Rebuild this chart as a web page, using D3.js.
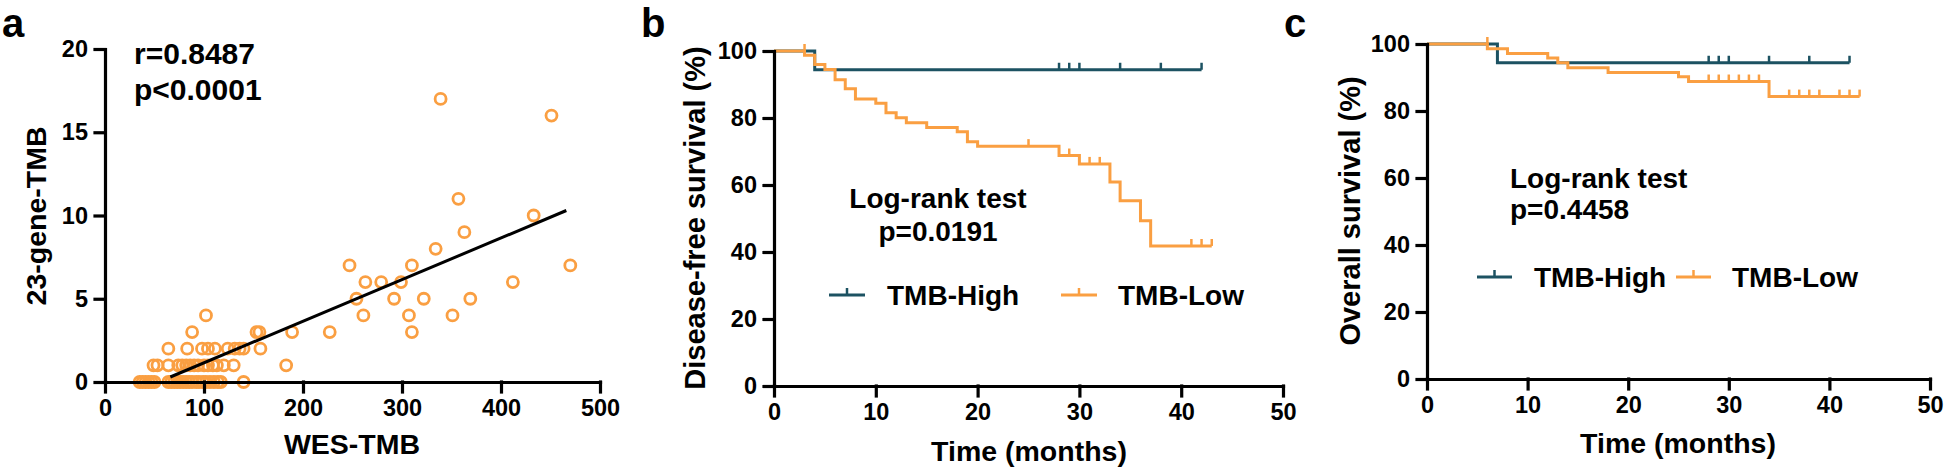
<!DOCTYPE html>
<html>
<head>
<meta charset="utf-8">
<script src="https://cdn.jsdelivr.net/npm/d3@7"></script>
<style>
    body { margin: 0; background: #fff; }
    svg text { font-family: "Liberation Sans", Arial, sans-serif; font-weight: bold; fill: #000; }
    .axis .domain, .axis line { stroke: #000; stroke-width: 3.2; stroke-linecap: square; }
    .axis text { font-size: 23.5px; }
</style>
</head>
<body>
<svg id="fig" width="1946" height="471"></svg>
<script>
// panel a: WES-TMB vs 23-gene-TMB
var wesTmb  = [35, 38, 41, 44, 47, 50, 64, 67, 70, 73, 76, 79, 82, 85, 88, 92, 95, 99, 102, 106, 110, 114, 117, 140,
               49, 53, 64, 74, 78, 82, 86, 90, 94, 100, 104, 109, 113, 120, 130, 183,
               64, 83, 98, 104, 111, 124, 131, 136, 140, 157,
               88, 153, 156, 189, 227, 310,
               102, 261, 307, 351,
               254, 292, 322, 369,
               263, 279, 299, 412,
               247, 310, 470,
               334, 363, 433, 357, 451, 339];
var geneTmb = [0, 0, 0, 0, 0, 0, 0, 0, 0, 0, 0, 0, 0, 0, 0, 0, 0, 0, 0, 0, 0, 0, 0, 0,
               1, 1, 1, 1, 1, 1, 1, 1, 1, 1, 1, 1, 1, 1, 1, 1,
               2, 2, 2, 2, 2, 2, 2, 2, 2, 2,
               3, 3, 3, 3, 3, 3,
               4, 4, 4, 4,
               5, 5, 5, 5,
               6, 6, 6, 6,
               7, 7, 7,
               8, 9, 10, 11, 16, 17];
var fitSlope = 0.025, fitIntercept = -1.35, fitRange = [66, 466];
var wesTicks = [0, 100, 200, 300, 400, 500];
var geneTicks = [0, 5, 10, 15, 20];

// panel b: disease-free survival
var dfsHighTimes = [0, 4, 42];
var dfsHighSurv = [100, 94.4, 94.4];
var dfsHighCens = [28, 29, 30, 34, 38, 42];
var dfsLowTimes = [0, 3, 4, 5, 6, 7, 8, 10, 11, 12, 13, 15, 18, 19, 20, 28, 30, 33, 34, 36, 37, 43];
var dfsLowSurv = [100, 98.7, 96.0, 94.5, 91.4, 88.7, 85.7, 84.4, 81.6, 80.1, 78.6, 77.2, 75.9, 72.9, 71.6, 68.8, 66.3, 60.9, 55.3, 49.3, 41.8, 41.8];
var dfsLowCens = [3, 25, 29, 31, 32, 41, 42, 43];

// panel c: overall survival
var osHighTimes = [0, 7, 42];
var osHighSurv = [100, 94.4, 94.4];
var osHighCens = [28, 29, 30, 34, 38, 42];
var osLowTimes = [0, 6, 8, 12, 13, 14, 18, 25, 26, 34, 43];
var osLowSurv = [100, 98.6, 97.2, 95.8, 94.4, 92.9, 91.5, 90.2, 88.8, 84.3, 84.3];
var osLowCens = [6, 28, 29, 30, 31, 32, 33, 36, 37, 38, 39, 41, 42, 43];

var timeTicks = [0, 10, 20, 30, 40, 50];
var survTicks = [0, 20, 40, 60, 80, 100];

var orange = '#fa9f42';
var blue = '#1c5262';

var svg = d3.select('#fig');
svg.append('rect').attr('width', 1946).attr('height', 471).attr('fill', '#fff');

function drawAxes(x, y, xTicks, yTicks) {
    svg.append('g').attr('class', 'axis')
        .attr('transform', 'translate(0,' + y.range()[0] + ')')
        .call(d3.axisBottom(x).tickValues(xTicks).tickSize(10).tickSizeOuter(0).tickPadding(7));
    svg.append('g').attr('class', 'axis')
        .attr('transform', 'translate(' + x.range()[0] + ',0)')
        .call(d3.axisLeft(y).tickValues(yTicks).tickSize(10).tickSizeOuter(0).tickPadding(7));
}

function label(txt, x, y, size, anchor, rotate) {
    var t = svg.append('text')
        .attr('text-anchor', anchor || 'start')
        .style('font-size', size + 'px')
        .text(txt);
    if (rotate) {
        t.attr('transform', 'translate(' + x + ',' + y + ') rotate(-90)');
    } else {
        t.attr('x', x).attr('y', y);
    }
    return t;
}

// ---- panel a ----
var xa = d3.scaleLinear().domain([0, 500]).range([105, 600]);
var ya = d3.scaleLinear().domain([0, 20]).range([382, 49]);

var points = wesTmb.map(function(w, i) { return {x: w, y: geneTmb[i]}; });

svg.append('g').selectAll('circle')
    .data(points)
    .enter()
    .append('circle')
    .attr('cx', function(d) { return xa(d.x); })
    .attr('cy', function(d) { return ya(d.y); })
    .attr('r', 5.5)
    .attr('fill', 'none')
    .attr('stroke', orange)
    .attr('stroke-width', 2.8);

svg.append('line')
    .attr('x1', xa(fitRange[0])).attr('y1', ya(fitIntercept + fitSlope * fitRange[0]))
    .attr('x2', xa(fitRange[1])).attr('y2', ya(fitIntercept + fitSlope * fitRange[1]))
    .attr('stroke', '#000').attr('stroke-width', 3);

drawAxes(xa, ya, wesTicks, geneTicks);

label('a', 2, 37, 40);
label('r=0.8487', 134, 64, 30);
label('p<0.0001', 134, 100, 30);
label('WES-TMB', 352, 454, 28.5, 'middle');
label('23-gene-TMB', 46, 216, 28.5, 'middle', true);

// ---- KM helpers ----
function survAt(times, surv, t) {
    var s = surv[0];
    for (var i = 0; i < times.length; i++) {
        if (times[i] < t) s = surv[i];
    }
    return s;
}

function drawCurve(x, y, times, surv, cens, color) {
    var pts = times.map(function(t, i) { return [t, surv[i]]; });
    var line = d3.line()
        .x(function(d) { return x(d[0]); })
        .y(function(d) { return y(d[1]); })
        .curve(d3.curveStepAfter);
    svg.append('path')
        .attr('d', line(pts))
        .attr('fill', 'none')
        .attr('stroke', color)
        .attr('stroke-width', 3);
    svg.append('g').selectAll('line')
        .data(cens)
        .enter()
        .append('line')
        .attr('x1', function(t) { return x(t); })
        .attr('x2', function(t) { return x(t); })
        .attr('y1', function(t) { return y(survAt(times, surv, t)); })
        .attr('y2', function(t) { return y(survAt(times, surv, t)) - 7; })
        .attr('stroke', color)
        .attr('stroke-width', 2.5);
}

function legendItem(x0, x1, yy, color, txt, tx) {
    svg.append('line').attr('x1', x0).attr('x2', x1).attr('y1', yy).attr('y2', yy)
        .attr('stroke', color).attr('stroke-width', 3);
    svg.append('line').attr('x1', (x0 + x1) / 2).attr('x2', (x0 + x1) / 2)
        .attr('y1', yy).attr('y2', yy - 7)
        .attr('stroke', color).attr('stroke-width', 2.5);
    label(txt, tx, yy + 10, 28);
}

// ---- panel b ----
var xb = d3.scaleLinear().domain([0, 50]).range([774, 1283]);
var yb = d3.scaleLinear().domain([0, 100]).range([386, 51]);

drawCurve(xb, yb, dfsHighTimes, dfsHighSurv, dfsHighCens, blue);
drawCurve(xb, yb, dfsLowTimes, dfsLowSurv, dfsLowCens, orange);
drawAxes(xb, yb, timeTicks, survTicks);

label('b', 641, 37, 40);
label('Log-rank test', 938, 208, 28, 'middle');
label('p=0.0191', 938, 241, 28, 'middle');
legendItem(829, 865, 295, blue, 'TMB-High', 887);
legendItem(1061, 1097, 295, orange, 'TMB-Low', 1118);
label('Time (months)', 1029, 461, 28.5, 'middle');
label('Disease-free survival (%)', 705, 218, 29, 'middle', true);

// ---- panel c ----
var xc = d3.scaleLinear().domain([0, 50]).range([1427, 1930]);
var yc = d3.scaleLinear().domain([0, 100]).range([379, 44]);

drawCurve(xc, yc, osHighTimes, osHighSurv, osHighCens, blue);
drawCurve(xc, yc, osLowTimes, osLowSurv, osLowCens, orange);
drawAxes(xc, yc, timeTicks, survTicks);

label('c', 1284, 37, 40);
label('Log-rank test', 1510, 188, 28);
label('p=0.4458', 1510, 219, 28);
legendItem(1477, 1512, 277, blue, 'TMB-High', 1534);
legendItem(1676, 1711, 277, orange, 'TMB-Low', 1732);
label('Time (months)', 1678, 453, 28.5, 'middle');
label('Overall survival (%)', 1360, 211, 29, 'middle', true);
</script>
</body>
</html>
